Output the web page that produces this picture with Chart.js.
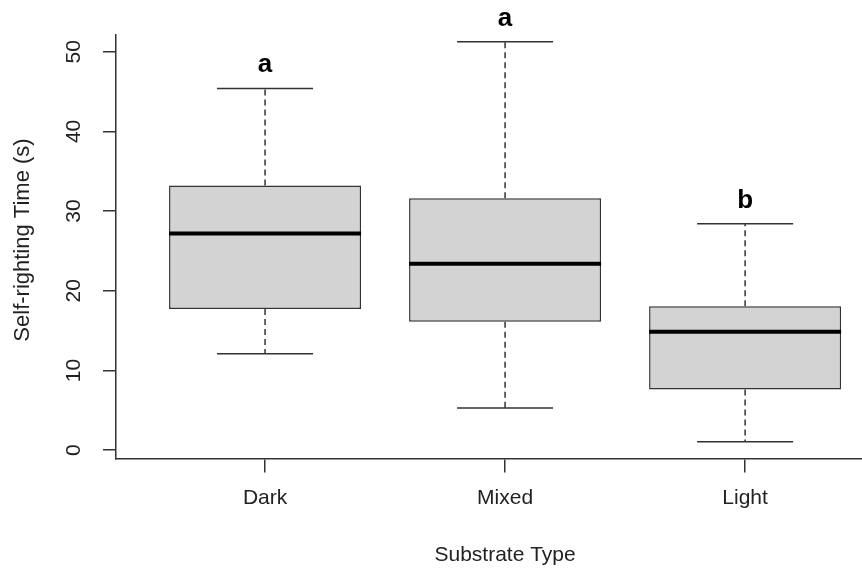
<!DOCTYPE html>
<html>
<head>
<meta charset="utf-8">
<script src="https://cdn.jsdelivr.net/npm/chart.js@4.4.1/dist/chart.umd.min.js"></script>
<style>
  html, body { margin: 0; padding: 0; background: #fff; }
  canvas { display: block; }
</style>
</head>
<body>
<canvas id="chart" width="862" height="570"></canvas>
<script>
// Boxplot: self-righting time per substrate
const substrates = ['Dark', 'Mixed', 'Light'];
const whiskerLow = [12.1, 5.3, 1.05];
const lowerQuartile = [17.7, 16.1, 7.6];
const medians = [27.2, 23.4, 14.85];
const upperQuartile = [33.2, 31.6, 18.05];
const whiskerHigh = [45.4, 51.25, 28.4];
const groupLetters = ['a', 'a', 'b'];
const yTicks = [0, 10, 20, 30, 40, 50];

const FONT = "'Liberation Sans', Arial, sans-serif";
const LINE = '#333333';

// whiskers, caps, medians, significance letters, rotated y labels and axis titles
const boxPlugin = {
    id: 'boxWhiskers',
    afterDatasetsDraw(chart) {
        const { ctx, scales: { x, y } } = chart;
        const bars = chart.getDatasetMeta(0).data;
        ctx.save();
        substrates.forEach((name, i) => {
            const cx = x.getPixelForValue(i + 1);
            const half = bars[i].width / 2;
            const capHalf = half / 2;
            const yHigh = y.getPixelForValue(whiskerHigh[i]);
            const yLow = y.getPixelForValue(whiskerLow[i]);

            // dashed whiskers
            ctx.strokeStyle = LINE;
            ctx.lineWidth = 1.5;
            ctx.setLineDash([6, 4]);
            ctx.beginPath();
            ctx.moveTo(cx, y.getPixelForValue(upperQuartile[i]));
            ctx.lineTo(cx, yHigh);
            ctx.moveTo(cx, y.getPixelForValue(lowerQuartile[i]));
            ctx.lineTo(cx, yLow);
            ctx.stroke();
            ctx.setLineDash([]);

            // caps
            ctx.beginPath();
            ctx.moveTo(cx - capHalf, yHigh);
            ctx.lineTo(cx + capHalf, yHigh);
            ctx.moveTo(cx - capHalf, yLow);
            ctx.lineTo(cx + capHalf, yLow);
            ctx.stroke();

            // median
            const ym = y.getPixelForValue(medians[i]);
            ctx.strokeStyle = '#000';
            ctx.lineWidth = 4;
            ctx.beginPath();
            ctx.moveTo(cx - half, ym);
            ctx.lineTo(cx + half, ym);
            ctx.stroke();

            // letter above the top whisker
            ctx.fillStyle = '#000';
            ctx.font = 'bold 26px ' + FONT;
            ctx.textAlign = 'center';
            ctx.textBaseline = 'alphabetic';
            ctx.fillText(groupLetters[i], cx, yHigh - 16);
        });

        // y tick labels, parallel to the axis like R
        ctx.fillStyle = '#222';
        ctx.font = '21px ' + FONT;
        ctx.textAlign = 'center';
        ctx.textBaseline = 'middle';
        yTicks.forEach(v => {
            ctx.save();
            ctx.translate(74, y.getPixelForValue(v));
            ctx.rotate(-Math.PI / 2);
            ctx.fillText(String(v), 0, 0);
            ctx.restore();
        });

        // axis titles, centred on the full plot region (R style)
        ctx.textBaseline = 'alphabetic';
        ctx.fillText('Substrate Type', x.getPixelForValue(2), 561);
        ctx.save();
        ctx.font = '22px ' + FONT;
        ctx.translate(29, 240);
        ctx.rotate(-Math.PI / 2);
        ctx.fillText('Self-righting Time (s)', 0, 0);
        ctx.restore();
        ctx.restore();
    }
};

const ctx = document.getElementById('chart').getContext('2d');
new Chart(ctx, {
    type: 'bar',
    data: {
        datasets: [{
            label: 'IQR',
            data: substrates.map((s, i) => ({ x: i + 1, y: [lowerQuartile[i], upperQuartile[i]] })),
            backgroundColor: '#d3d3d3',
            borderColor: LINE,
            borderWidth: 1.5,
            borderSkipped: false,
            barPercentage: 0.8,
            categoryPercentage: 1
        }]
    },
    options: {
        responsive: false,
        animation: false,
        layout: { padding: { top: 35, right: 0, left: 0, bottom: 0 } },
        plugins: {
            legend: { display: false },
            tooltip: { enabled: false }
        },
        scales: {
            x: {
                type: 'linear',
                offset: false,
                min: 0.379,
                max: 3.487,
                afterFit: s => { s.height = 111.5; },
                afterBuildTicks: s => { s.ticks = substrates.map((n, i) => ({ value: i + 1 })); },
                ticks: {
                    callback: v => substrates[v - 1],
                    font: { family: FONT, size: 21 },
                    color: '#222',
                    padding: 13,
                    maxRotation: 0
                },
                grid: { offset: false, drawOnChartArea: false, tickLength: 14, color: LINE, lineWidth: 1.5 },
                border: { color: LINE, width: 1.5 }
            },
            y: {
                min: -1.05,
                max: 52.1,
                afterFit: s => { s.width = 116; },
                afterBuildTicks: s => { s.ticks = yTicks.map(v => ({ value: v })); },
                ticks: { display: false },
                grid: { drawOnChartArea: false, tickLength: 13, color: LINE, lineWidth: 1.5 },
                border: { color: LINE, width: 1.5 }
            }
        }
    },
    plugins: [boxPlugin]
});
</script>
</body>
</html>
